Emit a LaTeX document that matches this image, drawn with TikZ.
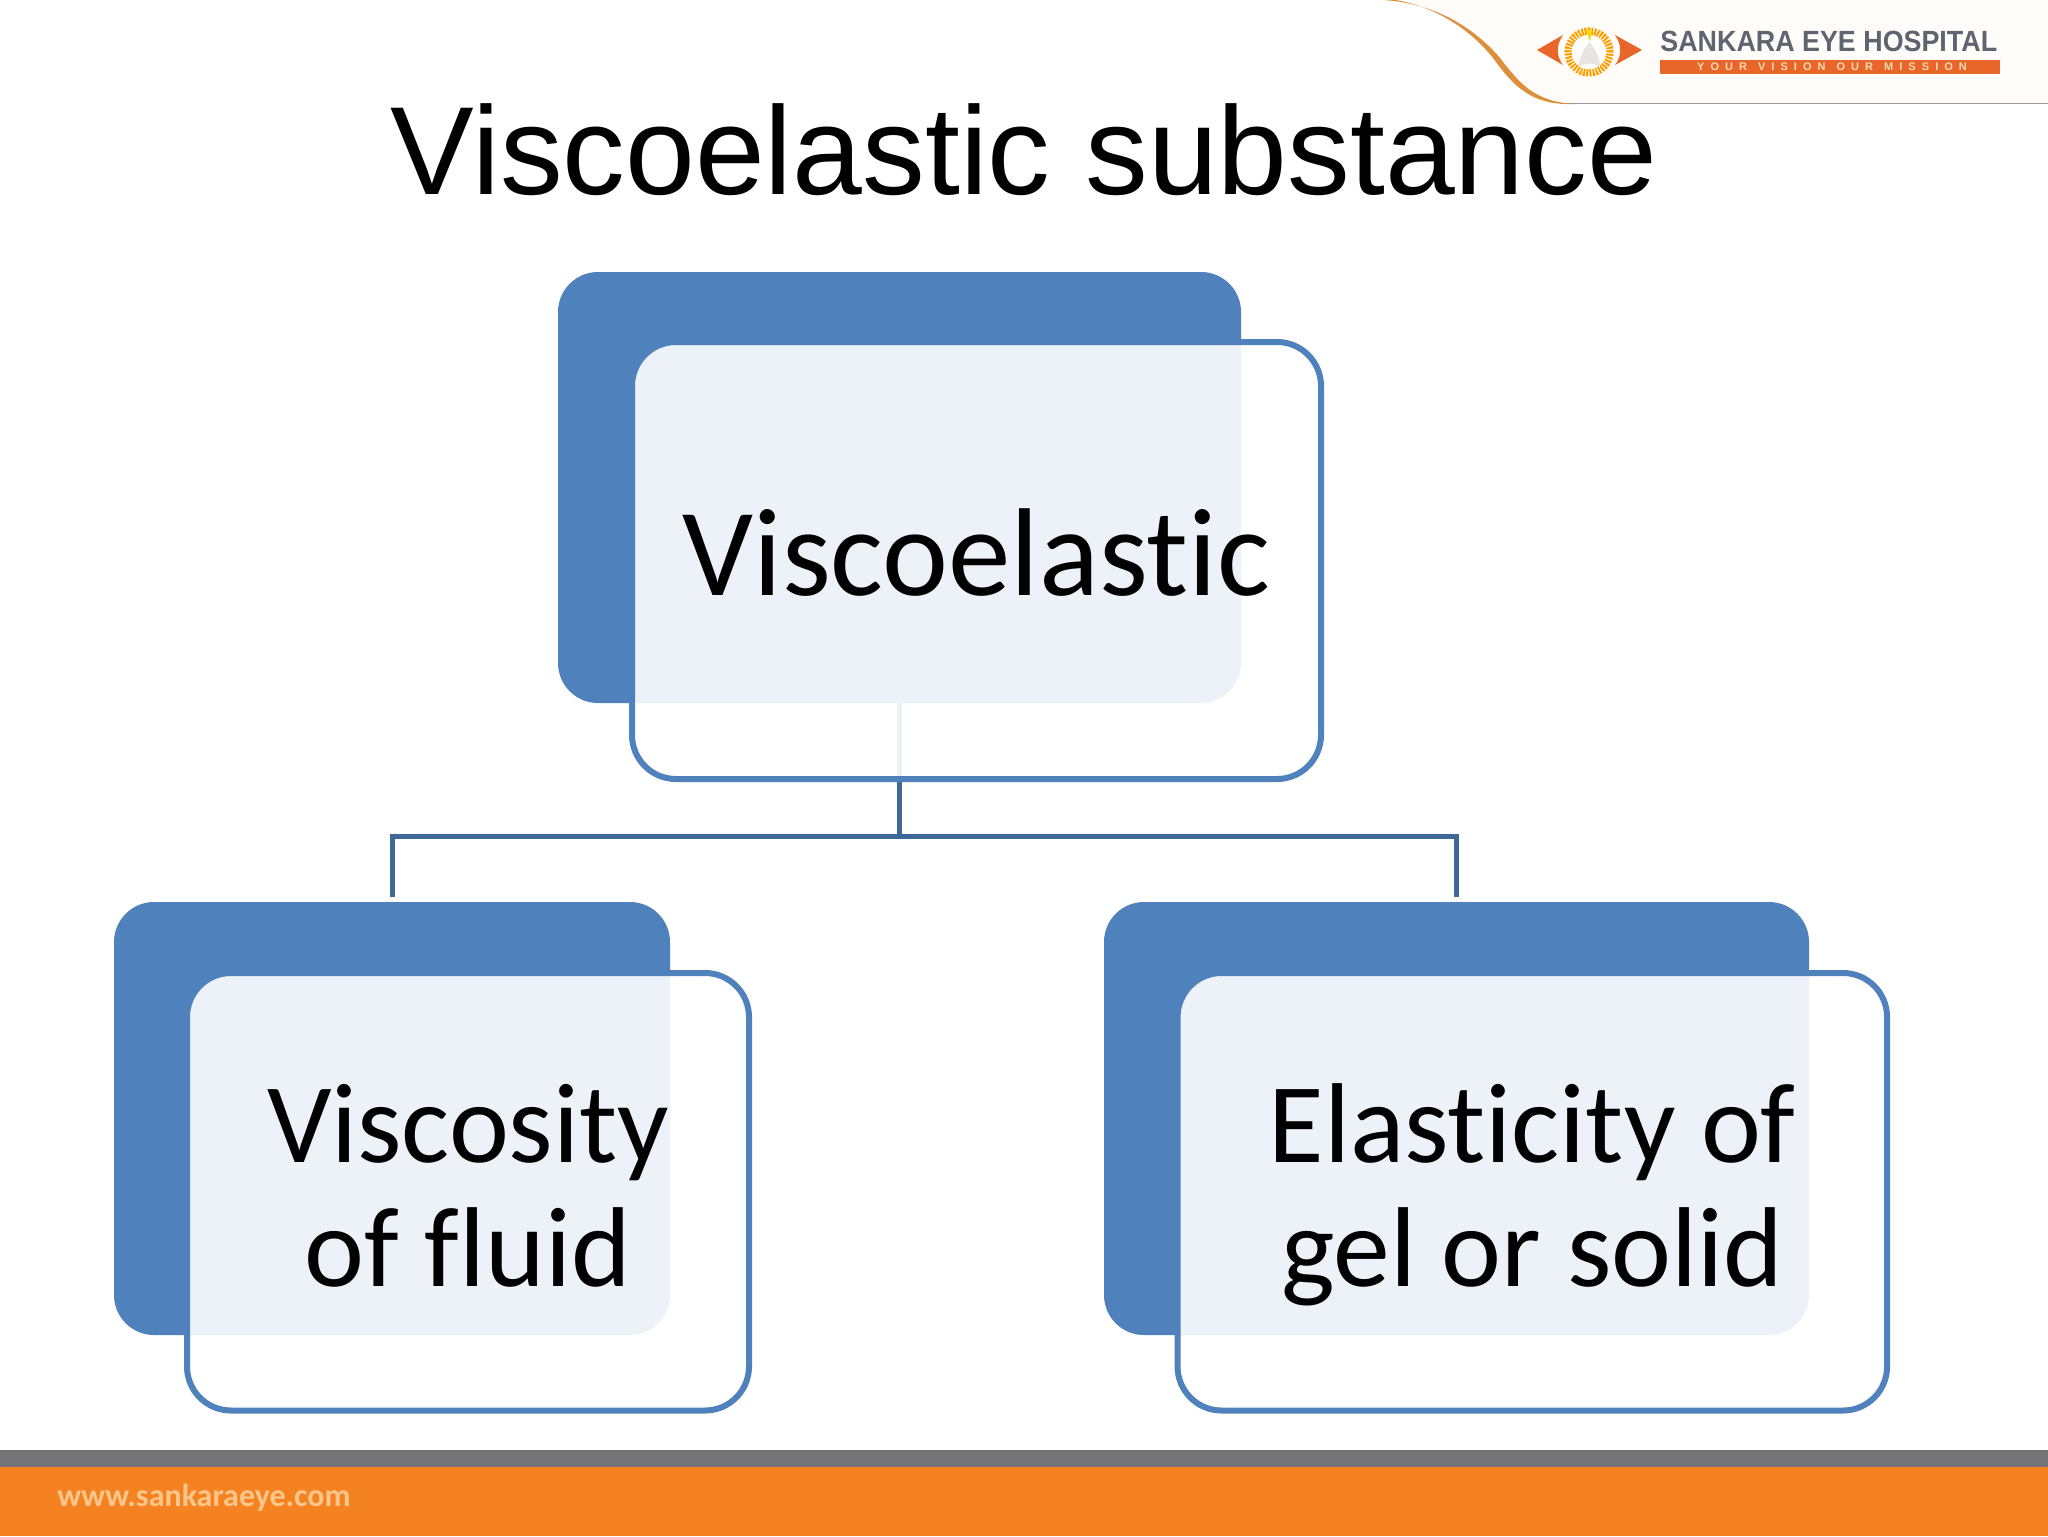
\documentclass[tikz,border=0pt]{standalone}
\usepackage{fontspec}
\setmainfont[Ligatures=NoCommon]{Carlito}
\newfontfamily\titlefont{Liberation Sans}
\newfontfamily\tagfont[LetterSpace=55]{Liberation Sans}
\usetikzlibrary{calc,shapes.geometric}
\definecolor{backblue}{HTML}{4F81BD}
\definecolor{linkblue}{HTML}{3F6797}
\definecolor{barorange}{HTML}{F58220}
\definecolor{bargray}{HTML}{757577}
\definecolor{logoorange}{HTML}{E8662A}
\definecolor{curveorange}{HTML}{DE8F3C}
\definecolor{logogray}{HTML}{5E6570}
\begin{document}
\begin{tikzpicture}[x=0.5pt,y=-0.5pt,
  backbox/.style={fill=backblue,draw=none,rounded corners=20pt,inner sep=0pt,outer sep=0pt},
  frontbox/.style={draw=backblue,line width=3pt,fill=white,fill opacity=.9,text opacity=1,draw opacity=1,
    rounded corners=22pt,inner sep=0pt,outer sep=0pt,align=center,text=black},
  boxtext/.style={font=\fontsize{56.8}{62}\selectfont},
  link/.style={draw=linkblue,line width=2.5pt}]
\useasboundingbox (0,0) rectangle (2048,1536);
\fill[white] (0,0) rectangle (2048,1536);
% logo band
\fill[orange!2] (1384,0) .. controls (1440,5) and (1475,35) .. (1497,57) .. controls (1515,80) and (1530,103) .. (1568,103) -- (2048,103) -- (2048,0) -- cycle;
\draw[black!40,line width=.9pt] (1560,103.5) -- (2048,103.5);
\fill[curveorange] (1384,0) .. controls (1440,4) and (1478,32) .. (1500,58) .. controls (1520,84) and (1535,102) .. (1575,104)
  .. controls (1530,106) and (1512,84) .. (1493,58) .. controls (1472,32) and (1440,8) .. (1396,0) -- cycle;
\fill[logoorange] (1537,50) -- (1563,35) .. controls (1556,45) and (1556,56) .. (1563,65) -- cycle;
\fill[logoorange] (1642,50) -- (1615,35) .. controls (1622,45) and (1622,56) .. (1615,65) -- cycle;
\node[draw=orange!75!yellow,line width=3.6pt,dash pattern=on 1pt off .6pt,fill=white,circle,minimum size=21pt,inner sep=0pt] (eye) at (1589,52) {};
\fill[orange!25!black!12] (1578,68) .. controls (1580,56) and (1584,48) .. (1590,42) .. controls (1592,48) and (1600,52) .. (1600,68) .. controls (1594,62) and (1584,62) .. (1578,68) -- cycle;
\fill[yellow!80!orange] (1586,30) -- (1592,30) -- (1590,42) -- cycle;
\node[font=\titlefont\bfseries\fontsize{14.6}{16}\selectfont,text=logogray,inner sep=0pt,anchor=west,xscale=.92] (logotext) at (1660,41) {SANKARA EYE HOSPITAL};
\fill[logoorange] (1660,60) rectangle (2000,74);
\node[font=\tagfont\bfseries\fontsize{5.5}{6}\selectfont,text=orange!30,inner sep=0pt] (logotag) at (1832,67) {YOUR\quad VISION\quad OUR\quad MISSION};
% title
\node[font=\titlefont\fontsize{62.7}{70}\selectfont,text=black,inner sep=0pt] (title) at (1024,150) {Viscoelastic substance};
% back boxes
\node[backbox,minimum width=341.5pt,minimum height=215.5pt] (topback) at (899.5,487.5) {};
\node[backbox,minimum width=278pt,minimum height=216.5pt] (leftback) at (392,1118.5) {};
\node[backbox,minimum width=352.5pt,minimum height=216.5pt] (rightback) at (1456.5,1118.5) {};
% connectors
\coordinate (bus) at (899.5,836);
\draw[link,shorten >=2.5pt] (bus) -| (leftback.north);
\draw[link,shorten >=2.5pt] (bus) -| (rightback.north);
\draw[link] (topback.south) -- (bus);
% front boxes
\node[frontbox,font=\fontsize{62.5}{62}\selectfont,minimum width=344.5pt,minimum height=218.5pt] (topfront) at (976.5,560.5) {\rule{0pt}{53.4pt}\strut Viscoelastic};
\node[frontbox,boxtext,minimum width=281pt,minimum height=218.75pt] (leftfront) at (468,1191.75) {\rule{0pt}{51.4pt}\strut Viscosity\\\strut of fluid};
\node[frontbox,boxtext,minimum width=354.75pt,minimum height=218.75pt] (rightfront) at (1532.3,1191.75) {\rule{0pt}{51.4pt}\strut Elasticity of\\\strut gel or solid};
% footer
\fill[bargray] (0,1450) rectangle (2048,1467);
\fill[barorange] (0,1467) rectangle (2048,1536);
\node[font=\bfseries\fontsize{16}{18}\selectfont,text=orange!45,inner sep=0pt,anchor=west] (url) at (57,1498) {www.sankaraeye.com};
\end{tikzpicture}
\end{document}
